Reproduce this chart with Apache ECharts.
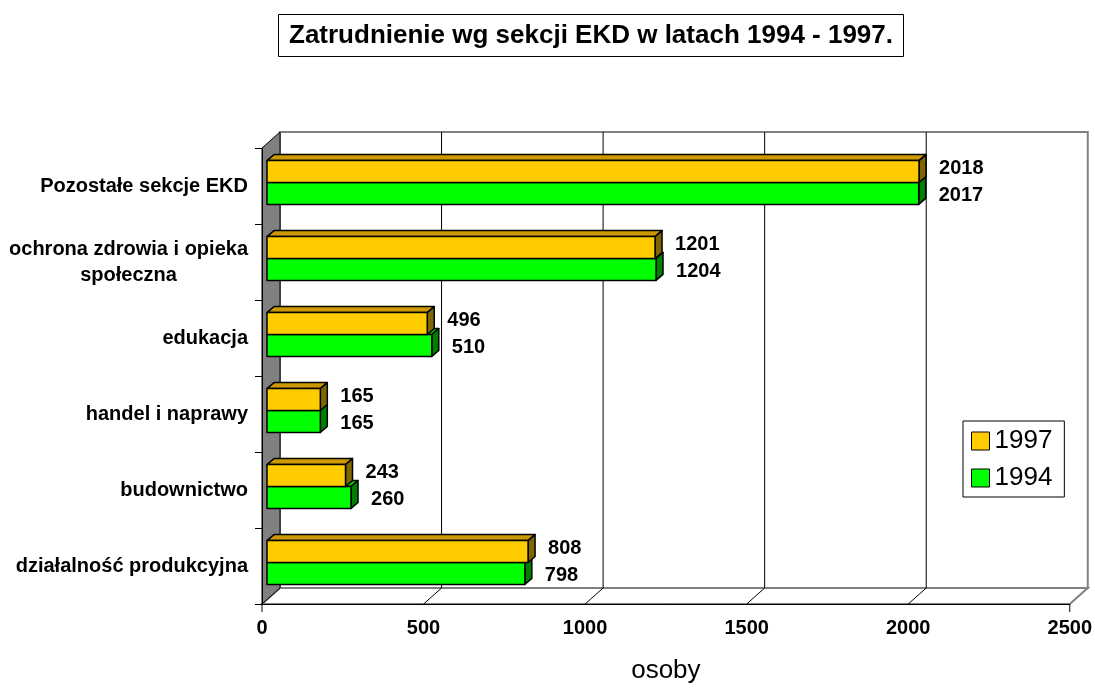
<!DOCTYPE html>
<html><head><meta charset="utf-8">
<script src="https://cdn.jsdelivr.net/npm/echarts@6/dist/echarts.min.js"></script>
<style>html,body{margin:0;padding:0;background:#fff}#c{width:1095px;height:689px}</style>
</head><body><div id="c"></div>
<script>
const categories = ['działalność produkcyjna','budownictwo','handel i naprawy','edukacja','ochrona zdrowia i opieka\nspołeczna','Pozostałe sekcje EKD'];
const seriesNames = ['1997','1994'];
const values1997 = [808, 243, 165, 496, 1201, 2018];
const values1994 = [798, 260, 165, 510, 1204, 2017];
const xTicks = [0, 500, 1000, 1500, 2000, 2500];

const FONT = '"Liberation Sans", Arial, sans-serif';
const CAT_FONT = 'bold 20px ' + FONT;
const chart = echarts.init(document.getElementById('c'), null, {renderer: 'canvas'});

const mctx = document.createElement('canvas').getContext('2d');
mctx.font = CAT_FONT;
function lineWidthOf(s) { return mctx.measureText(s).width; }

function renderFrame(params, api) {
  const n = categories.length;
  const bh = api.size([0, 1])[1];
  const x0 = api.coord([xTicks[0], 0])[0];
  const x1 = api.coord([xTicks[xTicks.length - 1], 0])[0];
  const yB = api.coord([0, 0])[1] + bh / 2;
  const yT = api.coord([0, n - 1])[1] - bh / 2;
  const dx = 18, dy = -16;
  const ch = [];
  ch.push({type: 'rect', shape: {x: x0 + dx, y: yT + dy, width: x1 - x0, height: yB - yT},
    style: {fill: '#fff', stroke: '#808080', lineWidth: 2}});
  ch.push({type: 'polygon', shape: {points: [[x0, yB], [x0 + dx, yB + dy], [x1 + dx, yB + dy], [x1, yB]]},
    style: {fill: '#fff', stroke: '#808080', lineWidth: 2}});
  for (let i = 1; i < xTicks.length - 1; i++) {
    const x = api.coord([xTicks[i], 0])[0];
    ch.push({type: 'line', shape: {x1: x + dx, y1: yT + dy, x2: x + dx, y2: yB + dy}, style: {stroke: '#000', lineWidth: 1}});
    ch.push({type: 'line', shape: {x1: x, y1: yB, x2: x + dx, y2: yB + dy}, style: {stroke: '#000', lineWidth: 1}});
  }
  ch.push({type: 'polygon', shape: {points: [[x0, yT], [x0 + dx, yT + dy], [x0 + dx, yB + dy], [x0, yB]]},
    style: {fill: '#808080', stroke: '#000', lineWidth: 1}});
  ch.push({type: 'line', shape: {x1: x0, y1: yB, x2: x0, y2: yB + 8}, style: {stroke: '#000', lineWidth: 1}});
  ch.push({type: 'line', shape: {x1: x1, y1: yB, x2: x1, y2: yB + 8}, style: {stroke: '#000', lineWidth: 1}});
  return {type: 'group', children: ch};
}

// category labels: right-aligned block, each line centred within it
function renderCatLabel(params, api) {
  const idx = api.value(0);
  const label = categories[idx];
  const lines = label.split('\n');
  const w = Math.max.apply(null, lines.map(lineWidthOf));
  const p = api.coord([xTicks[0], idx]);
  return {type: 'text', style: {
    text: label, x: p[0] - 14 - w / 2, y: p[1],
    align: 'center', verticalAlign: 'middle', textAlign: 'center', textVerticalAlign: 'middle',
    font: CAT_FONT, lineHeight: 26, fill: '#000'}};
}

function makeBarRenderer(upper, front, topC, sideC) {
  return function (params, api) {
    const idx = api.value(1), val = api.value(0);
    const bh = api.size([0, 1])[1];
    const base = api.coord([0, idx]);
    const end = api.coord([val, idx]);
    const h = bh * 0.288;
    const sx = 5, sy = -3.5, ddx = 7, ddy = -6;
    const cy = base[1] + sy;
    const top = upper ? cy - h : cy;
    const bot = top + h;
    const xa = base[0] + sx, xb = end[0] + sx;
    const st = {stroke: '#000', lineWidth: 1.5, lineJoin: 'round'};
    return {type: 'group', children: [
      {type: 'polygon', shape: {points: [[xa, top], [xa + ddx, top + ddy], [xb + ddx, top + ddy], [xb, top]]},
        style: Object.assign({fill: topC}, st)},
      {type: 'polygon', shape: {points: [[xb, top], [xb + ddx, top + ddy], [xb + ddx, bot + ddy], [xb, bot]]},
        style: Object.assign({fill: sideC}, st)},
      {type: 'rect', shape: {x: xa, y: top, width: xb - xa, height: h},
        style: Object.assign({fill: front}, st)},
      {type: 'text', style: {text: String(val), x: xb + 20, y: (top + bot) / 2 + (upper ? -3 : 2),
        align: 'left', verticalAlign: 'middle', textAlign: 'left', textVerticalAlign: 'middle',
        font: 'bold 20px ' + FONT, fill: '#000'}}
    ]};
  };
}

const data1997 = values1997.map((v, i) => [v, i]);
const data1994 = values1994.map((v, i) => [v, i]);

const option = {
  animation: false,
  backgroundColor: '#fff',
  title: {
    text: 'Zatrudnienie wg sekcji EKD w latach 1994 - 1997.',
    left: 278, top: 14,
    padding: [7, 11, 7, 11],
    borderColor: '#000', borderWidth: 1,
    textStyle: {fontFamily: FONT, fontWeight: 'bold', fontSize: 26, color: '#000', lineHeight: 29}
  },
  legend: {
    orient: 'vertical', left: 963, top: 421,
    padding: [7, 12, 6, 8],
    borderColor: '#000', borderWidth: 1, backgroundColor: '#fff',
    itemWidth: 18, itemHeight: 18, itemGap: 11,
    selectedMode: false,
    textStyle: {fontFamily: FONT, fontSize: 26, color: '#000', lineHeight: 26},
    data: [
      {name: seriesNames[0], icon: 'rect', itemStyle: {color: '#FFCC00', borderColor: '#000', borderWidth: 1}},
      {name: seriesNames[1], icon: 'rect', itemStyle: {color: '#00FF00', borderColor: '#000', borderWidth: 1}}
    ]
  },
  grid: {left: 262, right: 22, top: 148, bottom: 83, containLabel: false},
  xAxis: {
    type: 'value', min: xTicks[0], max: xTicks[xTicks.length - 1], interval: 500,
    z: 5,
    axisLine: {show: true, lineStyle: {color: '#000', width: 1}},
    axisTick: {show: false},
    splitLine: {show: false},
    axisLabel: {margin: 14, fontFamily: FONT, fontWeight: 'bold', fontSize: 20, color: '#000',
      formatter: function (v) { return String(v); }},
    name: 'osoby', nameLocation: 'middle', nameGap: 54,
    nameTextStyle: {fontFamily: FONT, fontSize: 26, color: '#000'}
  },
  yAxis: {
    type: 'category', data: categories, z: 5,
    axisLine: {show: true, lineStyle: {color: '#000', width: 1}},
    axisTick: {show: true, length: 7, lineStyle: {color: '#000'}},
    axisLabel: {show: false}
  },
  series: [
    {type: 'custom', name: 'frame', z: 1, silent: true, clip: false, data: [[0, 0]], renderItem: renderFrame},
    {type: 'custom', name: 'labels', z: 6, silent: true, clip: false,
      encode: {y: 0}, data: categories.map((c, i) => [i]), renderItem: renderCatLabel},
    {type: 'custom', name: seriesNames[1], z: 3, silent: true, clip: false,
      itemStyle: {color: '#00FF00', borderColor: '#000', borderWidth: 1},
      encode: {x: 0, y: 1}, data: data1994,
      renderItem: makeBarRenderer(false, '#00FF00', '#00CC00', '#008000')},
    {type: 'custom', name: seriesNames[0], z: 4, silent: true, clip: false,
      itemStyle: {color: '#FFCC00', borderColor: '#000', borderWidth: 1},
      encode: {x: 0, y: 1}, data: data1997,
      renderItem: makeBarRenderer(true, '#FFCC00', '#CC9900', '#806600')}
  ]
};
chart.setOption(option);
</script>
</body></html>
